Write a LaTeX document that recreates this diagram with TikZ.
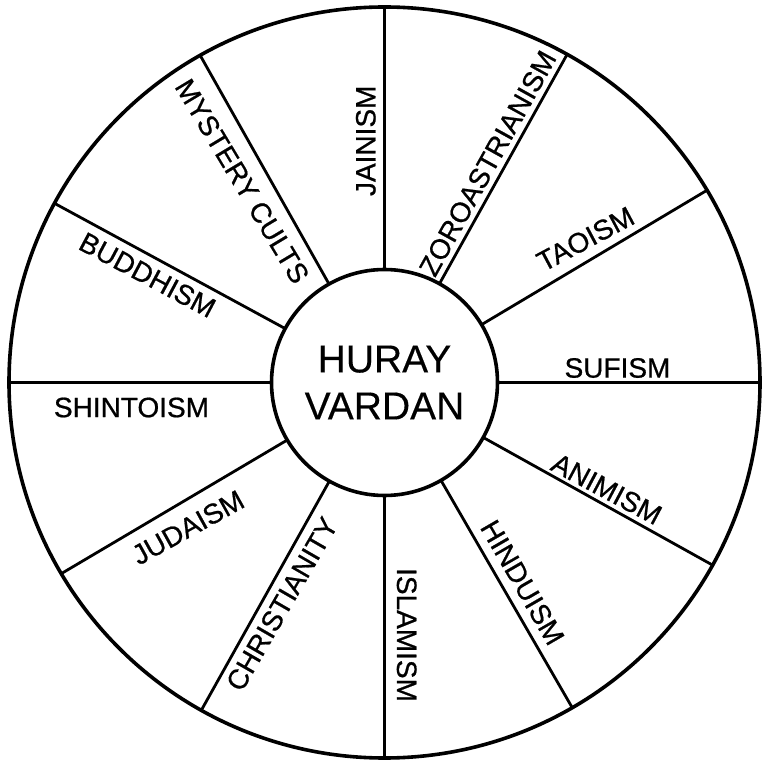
\documentclass[tikz,border=0pt]{standalone}
\usepackage{fontspec}
\setmainfont{Liberation Sans}
\newfontfamily\labfont[FakeBold=0.7]{Liberation Sans}
\newfontfamily\hubfont[FakeBold=0.3]{Liberation Sans}
\begin{document}
\begin{tikzpicture}[x=1pt,y=1pt,
  lab/.style={inner sep=0pt, font=\labfont\fontsize{28}{28}\selectfont},
  ring/.style={line width=3.6pt},
  spoke/.style={line width=2.8pt}]
\useasboundingbox (-384.5,-379.5) rectangle (377.5,382.5);
\fill[white] (-384.5,-379.5) rectangle (377.5,382.5);
\coordinate (c) at (0,0);
\foreach \a [count=\i] in {0,30.8,60.9,90,119.4,151.5,180,210.6,240.8,270,300,330.9} {
  \coordinate (in\i) at (\a:113);
  \coordinate (out\i) at (\a:375.5);
  \draw[spoke] (in\i) -- (out\i);
}
\node[circle, draw, ring, minimum size=751pt, inner sep=0pt] (rim) at (c) {};
\node[circle, draw, ring, fill=white, minimum size=226pt, inner sep=0pt, align=center,
      font=\hubfont\fontsize{39}{47}\selectfont] (hub) at (c) {HURAY\\VARDAN};
\node[lab, rotate=90]  (jain)  at (-18.7,241.7) {JAINISM};
\node[lab, rotate=61]  (zoro)  at (103.2,219.2) {ZOROASTRIANISM};
\node[lab, rotate=28]  (tao)   at (201,143.5) {TAOISM};
\node[lab]             (sufi)  at (233,14.5) {SUFISM};
\node[lab, rotate=-28] (anim)  at (222.2,-106.5) {ANIMISM};
\node[lab, rotate=-60] (hind)  at (138,-200) {HINDUISM};
\node[lab, rotate=-90] (isla)  at (22.2,-252.5) {ISLAMISM};
\node[lab, rotate=60]  (chri)  at (-102.5,-221.5) {CHRISTIANITY};
\node[lab, rotate=29]  (juda)  at (-196.5,-145) {JUDAISM};
\node[lab]             (shin)  at (-253,-25) {SHINTOISM};
\node[lab, rotate=-28] (budd)  at (-237,107.5) {BUDDHISM};
\node[lab, rotate=-59] (myst)  at (-142.3,201.3) {MYSTERY CULTS};
\end{tikzpicture}
\end{document}
